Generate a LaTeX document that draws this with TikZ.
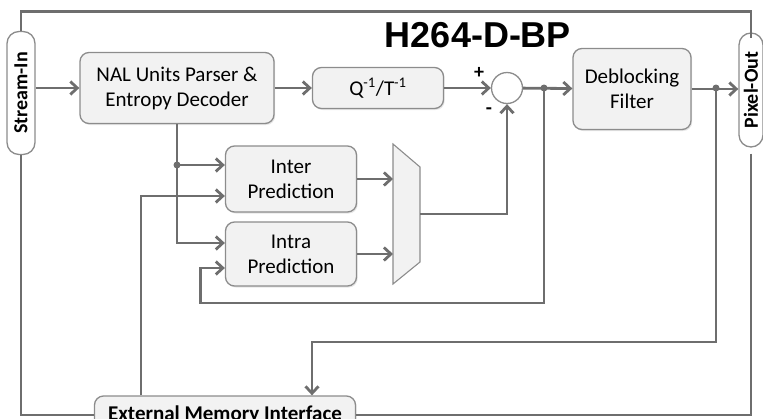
\documentclass[tikz,border=0pt]{standalone}
\usepackage{fontspec}
\setmainfont{Carlito}
\newfontfamily\hfont{Liberation Sans}
\usetikzlibrary{arrows.meta,calc,shadows}
\definecolor{wiregray}{HTML}{6E6E6E}
\definecolor{boxline}{HTML}{8C8C8C}
\definecolor{boxfill}{HTML}{F2F2F2}
\newcommand{\boxfont}{\fontsize{21}{25}\selectfont}
\newcommand{\portfont}{\bfseries\fontsize{20}{22}\selectfont}
\tikzset{
  block/.style={rectangle, draw=boxline, fill=boxfill, rounded corners=9pt, %
                line width=1.3pt, align=center, font=\boxfont, %
                drop shadow={shadow xshift=1.2pt, shadow yshift=-1.5pt, opacity=0.2}},
  port/.style={rectangle, draw=boxline, fill=white, rounded corners=12pt, %
               line width=1.3pt, rotate=90, font=\portfont, inner sep=0pt},
  wire/.style={draw=wiregray, line width=2.8pt},
  flow/.style={wire, -{Straight Barb[length=7pt, width=13pt]}},
  tap/.style={circle, fill=wiregray, inner sep=0pt, minimum size=7pt}
}

\begin{document}
\begin{tikzpicture}[x=1pt, y=-1pt]
  \useasboundingbox (0,0) rectangle (763,418);
  \clip (0,0) rectangle (763,418);
%
  \node[font=\hfont\bfseries\fontsize{36}{40}\selectfont] (Title) at (478,35) {H264-D-BP};
%
  \node[port, minimum width=123pt, minimum height=28pt] (StreamIn) at (21,93) {Stream-In};
  \node[port, minimum width=114pt, minimum height=24pt] (PixelOut) at (751,90) {Pixel-Out};
%
  \node[block, minimum width=194pt, minimum height=71pt] (NAL) at (177,88) %
       {NAL Units Parser \&\\Entropy Decoder};
  \node[block, minimum width=131pt, minimum height=41pt] (QT) at (378,88) %
       {Q\textsuperscript{-1}/T\textsuperscript{-1}};
  \node[circle, draw=boxline, fill=white, line width=1.3pt, inner sep=0pt, %
        minimum size=31pt] (Sum) at (507,88) {};
  \node[block, minimum width=118pt, minimum height=81pt] (Deblock) at (632,89) %
       {Deblocking\\Filter};
  \node[block, minimum width=131pt, minimum height=66pt] (Inter) at (291,179) %
       {Inter\\Prediction};
  \node[block, minimum width=131pt, minimum height=64pt] (Intra) at (291,254) %
       {Intra\\Prediction};
  \node[block, font=\portfont\fontsize{21}{24}\selectfont, minimum width=261pt, %
        minimum height=38pt] (EMI) at (225,415) {External Memory Interface};
%
  \node[font=\bfseries\fontsize{20}{20}\selectfont] (Plus) at (479,73) {+};
  \node[font=\bfseries\fontsize{20}{20}\selectfont] (Minus) at (489,111) {-};
%
  \draw[fill=boxfill, draw=boxline, line width=1.1pt] %
    (393,144) -- (420,167) -- (420,262) -- (393,284) -- cycle;
  \coordinate (MuxA) at (393,179);
  \coordinate (MuxB) at (393,254);
  \coordinate (MuxOut) at (420,214);
%
  \coordinate (Split) at (177,165);
  \coordinate (TapA) at (544,88);
  \coordinate (TapB) at (716,88);
%
  \draw [wire] (StreamIn.east) -- ++(0,-19) -| ([yshift=-6pt]PixelOut.east);
  \draw [wire] (StreamIn.west) |- (EMI.west);
  \draw [wire] ([yshift=-6pt]PixelOut.west) |- (EMI.east);
%
  \draw [flow] (StreamIn.south |- NAL.west)--(NAL.west);
  \draw [flow] (NAL)--(QT);
  \draw [flow] (QT)--(Sum);
  \draw [flow] (Sum)--(Deblock);
  \draw [flow] (Deblock.east)--(Deblock.east -| PixelOut.north);
  \draw [flow] (NAL.south) |- ([yshift=11pt]Intra.west);
  \draw [flow] (Split)--([yshift=14pt]Inter.west);
  \draw [flow] (Inter.east)--(MuxA);
  \draw [flow] (Intra.east)--(MuxB);
  \draw [flow] (MuxOut) -| (Sum.south);
  \draw [flow] (TapA) -- ++(0,215) -| ([xshift=-24pt,yshift=-14pt]Intra.west) -- %
    ([yshift=-14pt]Intra.west);
  \draw [flow] (TapB) -- ++(0,254) -| ([xshift=87pt]EMI.north);
  \draw [flow] ([xshift=-84pt]EMI.north) |- ([yshift=-17pt]Inter.west);
%
  \node[tap] at (Split) {};
  \node[tap] at (TapA) {};
  \node[tap] at (TapB) {};
\end{tikzpicture}
\end{document}
